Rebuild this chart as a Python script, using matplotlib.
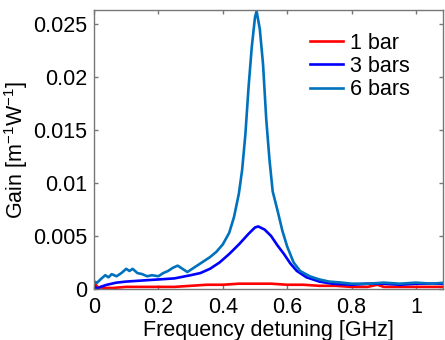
import matplotlib
matplotlib.use("Agg")
import matplotlib.pyplot as plt

plt.rcParams['font.family'] = ['Liberation Sans', 'DejaVu Sans']
plt.rcParams['mathtext.fontset'] = 'custom'
plt.rcParams['mathtext.rm'] = 'Liberation Sans'
plt.rcParams['mathtext.it'] = 'Liberation Sans'

# 6 bars
x6 = [0.0, 0.01, 0.02, 0.035, 0.045, 0.055, 0.07, 0.085, 0.1, 0.11, 0.12, 0.135, 0.15,
      0.165, 0.18, 0.2, 0.215, 0.23, 0.245, 0.26, 0.275, 0.29, 0.305, 0.32, 0.34, 0.36,
      0.38, 0.40, 0.42, 0.435, 0.45, 0.46, 0.47, 0.48, 0.49, 0.50, 0.505, 0.515, 0.525,
      0.535, 0.545, 0.555, 0.57, 0.585, 0.6, 0.62, 0.64, 0.67, 0.7, 0.73, 0.77, 0.8,
      0.85, 0.9, 0.95, 1.0, 1.05, 1.09]
y6 = [0.0007, 0.0006, 0.0009, 0.0013, 0.0011, 0.0014, 0.0012, 0.0015, 0.0019, 0.0017,
      0.0019, 0.0015, 0.0014, 0.0012, 0.0013, 0.0012, 0.0015, 0.0017, 0.0020, 0.0022,
      0.0019, 0.0016, 0.0019, 0.0022, 0.0026, 0.0030, 0.0035, 0.0042, 0.0053, 0.0068,
      0.0090, 0.0112, 0.0145, 0.0190, 0.0228, 0.0256, 0.0262, 0.0245, 0.0212, 0.0160,
      0.0122, 0.0092, 0.0074, 0.0055, 0.0040, 0.0025, 0.0017, 0.0012, 0.0009, 0.0007,
      0.0006, 0.0005, 0.0005, 0.0006, 0.0005, 0.0006, 0.0005, 0.0006]

# 3 bars
x3 = [0.0, 0.01, 0.02, 0.04, 0.07, 0.1, 0.15, 0.2, 0.25, 0.3, 0.33, 0.36, 0.39, 0.42,
      0.45, 0.48, 0.5, 0.51, 0.53, 0.55, 0.57, 0.59, 0.61, 0.63, 0.66, 0.7, 0.74, 0.8,
      0.85, 0.9, 0.95, 1.0, 1.05, 1.09]
y3 = [0.0003, 0.0000, 0.0002, 0.0004, 0.0006, 0.0007, 0.0008, 0.0009, 0.0010, 0.0013,
      0.0015, 0.0019, 0.0025, 0.0033, 0.0042, 0.0052, 0.0058, 0.0059, 0.0056, 0.0050,
      0.0041, 0.0033, 0.0024, 0.0017, 0.0011, 0.0007, 0.0005, 0.0004, 0.0005, 0.0005,
      0.0004, 0.0005, 0.0005, 0.0005]

# 1 bar
x1 = [0.0, 0.01, 0.03, 0.06, 0.1, 0.15, 0.2, 0.25, 0.3, 0.35, 0.4, 0.45, 0.5, 0.55,
      0.6, 0.65, 0.7, 0.75, 0.8, 0.85, 0.88, 0.9, 0.95, 1.0, 1.05, 1.09]
y1 = [0.0007, 0.0002, 0.0001, 0.0001, 0.0002, 0.0002, 0.0002, 0.0002, 0.0003, 0.0004,
      0.0004, 0.0005, 0.0005, 0.0005, 0.0004, 0.0004, 0.0003, 0.0003, 0.0002, 0.0002,
      0.0004, 0.0002, 0.0002, 0.0002, 0.0002, 0.0002]

xticks = [0, 0.2, 0.4, 0.6, 0.8, 1]
xticklabels = ['0', '0.2', '0.4', '0.6', '0.8', '1']
yticks = [0, 0.005, 0.01, 0.015, 0.02, 0.025]
yticklabels = ['0', '0.005', '0.01', '0.015', '0.02', '0.025']

fig = plt.figure(figsize=(4.45, 3.40), dpi=100)
ax = fig.add_axes([94/445, 1-289/340, (443-94)/445, (289-10)/340])

ax.plot(x1, y1, color='#ff0000', lw=1.9, label='1 bar')
ax.plot(x3, y3, color='#0000ff', lw=1.9, label='3 bars')
ax.plot(x6, y6, color='#0072bd', lw=1.9, label='6 bars')

ax.set_xlim(0, 1.084)
ax.set_ylim(0, 0.0263)
ax.set_xticks(xticks)
ax.set_xticklabels(xticklabels)
ax.set_yticks(yticks)
ax.set_yticklabels(yticklabels)

for s in ax.spines.values():
    s.set_color('#777777')
    s.set_linewidth(1.0)
ax.tick_params(direction='in', length=3, width=1, color='#777777',
               top=True, right=True, labelsize=15.5, pad=5)
ax.tick_params(axis='x', pad=6)

ax.set_xlabel('Frequency detuning [GHz]', fontsize=15.5, labelpad=1)
ax.set_ylabel('Gain [m$^{-1}$W$^{-1}$]', fontsize=15.5, labelpad=2)

ax.legend(loc='upper left', bbox_to_anchor=(0.618, 0.918), frameon=False,
          fontsize=15.5, handlelength=1.55, handletextpad=0.3, labelspacing=0.1,
          borderpad=0, borderaxespad=0)

fig.savefig('out.png', dpi=100)
